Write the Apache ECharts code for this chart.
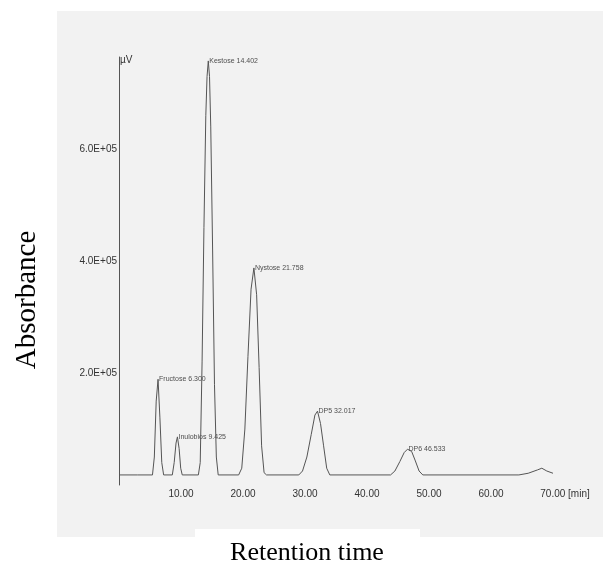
<!DOCTYPE html>
<html>
<head>
<meta charset="utf-8">
<script src="https://cdn.jsdelivr.net/npm/echarts@6/dist/echarts.min.js"></script>
<style>
  html, body { margin: 0; padding: 0; background: #fff; }
  #chart { width: 603px; height: 566px; }
</style>
</head>
<body>
<div id="chart"></div>
<script>
// axis ticks
const xTicks = [10, 20, 30, 40, 50, 60, 70]
const yTicks = [2e5, 4e5, 6e5]

// peaks (retention time in min, height in µV)
const peakNames = ['Fructose', 'Inulobios', 'Kestose', 'Nystose', 'DP5', 'DP6']
const peakTimes = [6.300, 9.425, 14.402, 21.758, 32.017, 46.533]
const peakHeights = [1.89e5, 0.86e5, 7.58e5, 3.88e5, 1.32e5, 0.64e5]

// detector trace: [time, µV]
const trace = [
  [0, 1.8e4], [3.0, 1.8e4], [5.4, 1.8e4],
  // fructose
  [5.7, 5e4], [6.0, 1.5e5], [6.3, 1.89e5], [6.6, 1.2e5], [6.9, 4e4], [7.2, 1.8e4],
  [8.6, 1.8e4],
  // inulobios
  [8.9, 4e4], [9.2, 7.5e4], [9.425, 8.6e4], [9.7, 6.5e4], [9.95, 3e4], [10.2, 1.8e4],
  [12.8, 1.8e4],
  // kestose
  [13.1, 4e4], [13.4, 2.2e5], [13.7, 4.6e5], [14.0, 6.6e5], [14.2, 7.3e5], [14.402, 7.58e5],
  [14.6, 7.3e5], [14.8, 6.4e5], [15.1, 4.2e5], [15.4, 1.8e5], [15.7, 5e4], [16.0, 1.8e4],
  [19.3, 1.8e4],
  // nystose
  [19.8, 3e4], [20.3, 1.0e5], [20.8, 2.3e5], [21.3, 3.5e5], [21.758, 3.88e5], [22.2, 3.4e5],
  [22.6, 2.1e5], [23.0, 7e4], [23.4, 2.2e4], [23.8, 1.8e4],
  [29.0, 1.8e4],
  // DP5
  [29.6, 2.5e4], [30.3, 5e4], [31.0, 9e4], [31.6, 1.25e5], [32.017, 1.32e5], [32.5, 1.1e5],
  [33.0, 7e4], [33.5, 3e4], [34.0, 1.8e4],
  [43.8, 1.8e4],
  // DP6
  [44.5, 2.5e4], [45.3, 4.2e4], [46.0, 5.8e4], [46.533, 6.4e4], [47.2, 6e4], [47.8, 4.3e4],
  [48.4, 2.5e4], [49.0, 1.8e4],
  [64.5, 1.8e4],
  // late drift
  [66.0, 2.1e4], [67.5, 2.7e4], [68.2, 3.0e4], [69.0, 2.5e4], [70.0, 2.1e4]
]

const peakLabels = peakNames.map((n, i) => [peakTimes[i], peakHeights[i], n + ' ' + peakTimes[i].toFixed(3)])

const chart = echarts.init(document.getElementById('chart'))

const option = {
  animation: false,
  graphic: [
    { type: 'rect', z: -10, shape: { x: 57, y: 11, width: 546, height: 526 }, style: { fill: '#f2f2f2' } },
    { type: 'rect', z: -9, shape: { x: 195, y: 529, width: 225, height: 37 }, style: { fill: '#ffffff' } },
    {
      type: 'text', x: 27, y: 300, rotation: Math.PI / 2,
      style: { text: 'Absorbance', fontSize: 29, fontFamily: 'Liberation Serif', fill: '#000', align: 'center', verticalAlign: 'middle' }
    },
    {
      type: 'text', x: 307, y: 553,
      style: { text: 'Retention time', fontSize: 26, fontFamily: 'Liberation Serif', fill: '#000', align: 'center', verticalAlign: 'middle' }
    }
  ],
  grid: { left: 119, right: 37.6, top: 57, bottom: 81 },
  xAxis: {
    type: 'value',
    min: 0,
    max: 72,
    interval: 10,
    axisLine: { show: false },
    axisTick: { show: false },
    splitLine: { show: false },
    axisLabel: {
      margin: 4,
      fontSize: 10,
      fontFamily: 'Liberation Sans',
      color: '#333',
      formatter: function (v) {
        if (!xTicks.includes(v)) return ''
        if (v === 70) return '{last|70.00 [min]}'
        return v.toFixed(2)
      },
      rich: {
        last: { fontSize: 10, fontFamily: 'Liberation Sans', color: '#333', padding: [0, 0, 0, 24] }
      }
    }
  },
  yAxis: {
    type: 'value',
    min: 0,
    max: 7.65e5,
    interval: 2e5,
    name: 'µV',
    nameLocation: 'end',
    nameGap: -3,
    nameTextStyle: { align: 'left', verticalAlign: 'middle', fontSize: 10, fontFamily: 'Liberation Sans', color: '#333', padding: [0, 0, 0, 1] },
    axisLine: { show: true, lineStyle: { color: '#555', width: 1 } },
    axisTick: { show: false },
    splitLine: { show: false },
    axisLabel: {
      margin: 2,
      fontSize: 10,
      fontFamily: 'Liberation Sans',
      color: '#333',
      formatter: function (v) {
        return yTicks.includes(v) ? (v / 1e5).toFixed(1) + 'E+05' : ''
      }
    }
  },
  series: [
    {
      type: 'line',
      data: trace,
      symbol: 'none',
      smooth: false,
      lineStyle: { color: '#555', width: 1 }
    },
    {
      type: 'scatter',
      data: peakLabels,
      symbolSize: 0,
      label: {
        show: true,
        position: 'right',
        distance: 1,
        fontSize: 7,
        fontFamily: 'Liberation Sans',
        color: '#222',
        formatter: function (p) { return p.value[2] }
      }
    }
  ]
}

chart.setOption(option)
</script>
</body>
</html>
